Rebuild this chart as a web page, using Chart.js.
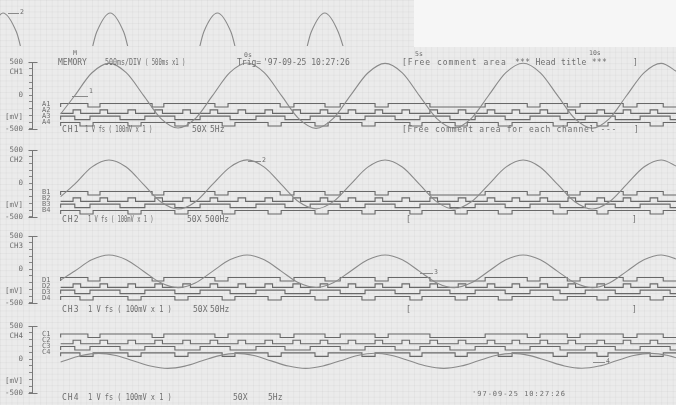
<!DOCTYPE html>
<html lang="en">
<head>
  <meta charset="UTF-8">
  <title>Memory recorder printout</title>
  <script src="https://cdn.jsdelivr.net/npm/chart.js"></script>
  <style>
    body { margin: 0; }
    #page {
      position: relative; width: 676px; height: 405px; overflow: hidden;
      background-color: #ebebeb;
      background-image:
        linear-gradient(to right, rgba(0,0,0,0.03) 1px, transparent 1px),
        linear-gradient(to bottom, rgba(0,0,0,0.03) 1px, transparent 1px);
      background-size: 5.75px 5.75px;
    }
    canvas { position: absolute; left: 0; }
    .t { position: absolute; font-family: 'DejaVu Sans Mono', monospace; font-size: 8px; line-height: 1;
         color: #6e6e6e; white-space: pre; z-index: 5; transform-origin: 0 50%; }
    .s { font-size: 6.5px; }
    .r { font-size: 7px; }
    .ld { position: absolute; height: 0; border-top: 1px solid #8a8a8a; z-index: 5; }
  </style>
</head>
<body>
<div id="page">
  <div style="position:absolute;left:414px;top:0;width:262px;height:47px;background:#f6f6f6"></div>

  <canvas id="prev" width="676" height="46" style="top:0"></canvas>
  <canvas id="ch1" width="676" height="88" style="top:50px"></canvas>
  <canvas id="ch2" width="676" height="88" style="top:138px"></canvas>
  <canvas id="ch3" width="676" height="88" style="top:224px"></canvas>
  <canvas id="ch4" width="676" height="88" style="top:314px"></canvas>

  <!-- header line -->
  <div class="t s" style="left:73px;top:50px">M</div>
  <div class="t" style="left:58px;top:59px">MEMORY</div>
  <div class="t" style="left:105px;top:59px;transform:scaleX(0.83)">500ms/DIV</div>
  <div class="t" style="left:145px;top:59px;transform:scaleX(0.7)">( 500ms x1 )</div>
  <div class="t" style="left:237px;top:59px">Trig=</div>
  <div class="t" style="left:263px;top:59px">'97-09-25 10:27:26</div>
  <div class="t" style="left:402px;top:59px;letter-spacing:1px">[Free comment area</div>
  <div class="t" style="left:515px;top:59px;letter-spacing:0.3px">*** Head title ***</div>
  <div class="t" style="left:633px;top:59px">]</div>
  <div class="t s" style="left:244px;top:52px">0s</div>
  <div class="t s" style="left:415px;top:51px">5s</div>
  <div class="t s" style="left:589px;top:50px">10s</div>

  <!-- trace labels -->
  <div class="ld" style="left:8px;top:13px;width:11px"></div><div class="t s" style="left:20px;top:9px">2</div>
  <div class="ld" style="left:72px;top:96px;width:16px"></div><div class="t s" style="left:89px;top:88px">1</div>
  <div class="ld" style="left:248px;top:161px;width:13px"></div><div class="t s" style="left:262px;top:157px">2</div>
  <div class="ld" style="left:420px;top:273px;width:13px"></div><div class="t s" style="left:434px;top:269px">3</div>
  <div class="ld" style="left:593px;top:362px;width:12px"></div><div class="t s" style="left:606px;top:358px">4</div>

  <!-- logic channel names -->
  <div class="t r" style="left:42px;top:101px">A1</div>
  <div class="t r" style="left:42px;top:107px">A2</div>
  <div class="t r" style="left:42px;top:113px">A3</div>
  <div class="t r" style="left:42px;top:119px">A4</div>
  <div class="t r" style="left:42px;top:189px">B1</div>
  <div class="t r" style="left:42px;top:195px">B2</div>
  <div class="t r" style="left:42px;top:201px">B3</div>
  <div class="t r" style="left:42px;top:207px">B4</div>
  <div class="t r" style="left:42px;top:277px">D1</div>
  <div class="t r" style="left:42px;top:283px">D2</div>
  <div class="t r" style="left:42px;top:289px">D3</div>
  <div class="t r" style="left:42px;top:295px">D4</div>
  <div class="t r" style="left:42px;top:331px">C1</div>
  <div class="t r" style="left:42px;top:337px">C2</div>
  <div class="t r" style="left:42px;top:343px">C3</div>
  <div class="t r" style="left:42px;top:349px">C4</div>

  <!-- channel footers -->
  <div class="t" style="left:62px;top:126px;letter-spacing:1px">CH1</div>
  <div class="t" style="left:85px;top:126px;transform:scaleX(0.7)">1 V fs ( 100mV x 1 )</div>
  <div class="t" style="left:192px;top:126px">50X</div>
  <div class="t" style="left:210px;top:126px">5Hz</div>
  <div class="t" style="left:402px;top:126px;letter-spacing:0.7px">[Free comment area for each channel ---</div>
  <div class="t" style="left:634px;top:126px">]</div>

  <div class="t" style="left:62px;top:216px;letter-spacing:1px">CH2</div>
  <div class="t" style="left:88px;top:216px;transform:scaleX(0.68)">1 V fs ( 100mV x 1 )</div>
  <div class="t" style="left:187px;top:216px">50X</div>
  <div class="t" style="left:205px;top:216px">500Hz</div>
  <div class="t" style="left:406px;top:216px">[</div>
  <div class="t" style="left:632px;top:216px">]</div>

  <div class="t" style="left:62px;top:306px;letter-spacing:1px">CH3</div>
  <div class="t" style="left:88px;top:306px;transform:scaleX(0.87)">1 V fs ( 100mV x 1 )</div>
  <div class="t" style="left:193px;top:306px">50X</div>
  <div class="t" style="left:210px;top:306px">50Hz</div>
  <div class="t" style="left:406px;top:306px">[</div>
  <div class="t" style="left:632px;top:306px">]</div>

  <div class="t" style="left:62px;top:394px;letter-spacing:1px">CH4</div>
  <div class="t" style="left:88px;top:394px;transform:scaleX(0.87)">1 V fs ( 100mV x 1 )</div>
  <div class="t" style="left:233px;top:394px">50X</div>
  <div class="t" style="left:268px;top:394px">5Hz</div>
  <div class="t" style="left:472px;top:391px;font-size:7px;letter-spacing:1px">'97-09-25 10:27:26</div>
</div>

<script>
  // time of each sine sample, seconds from trigger (500ms/DIV)
  const sampleTimes = [-5.4, -5, -4.5, -4, -3.5, -3, -2.5, -2, -1.5, -1, -0.5, 0, 0.5, 1, 1.5, 2, 2.5, 3, 3.5,
    4, 4.5, 5, 5.5, 6, 6.5, 7, 7.5, 8, 8.5, 9, 9.5, 10, 10.5, 11, 11.5, 12, 12.5];
  const ch4Times = [-5.4, -4.8, -4.3, -3.8, -3.3, -2.8, -2.3, -1.8, -1.3, -0.8, -0.3, 0.2, 0.7, 1.2, 1.7, 2.2, 2.7,
    3.2, 3.7, 4.2, 4.7, 5.2, 5.7, 6.2, 6.7, 7.2, 7.7, 8.2, 8.7, 9.2, 9.7, 10.2, 10.7, 11.2, 11.7, 12.2, 12.7];

  // analog channels, mV
  const ch1Values = [-280, -10, 335, 480, 340, 0, -345, -490, -350, -5, 340, 485, 340, -5, -350, -495, -345, 0, 335,
    480, 338, -8, -348, -490, -345, -2, 340, 482, 338, -5, -350, -492, -348, -3, 338, 480, 340];
  const ch2Values = [-200, -17, 243, 350, 245, -15, -277, -385, -280, -17, 240, 352, 243, -20, -277, -383, -275, -15, 243,
    350, 245, -17, -278, -385, -277, -18, 243, 350, 242, -17, -277, -386, -276, -16, 244, 350, 243];
  const ch3Values = [-160, -30, 143, 215, 145, -28, -203, -275, -205, -30, 142, 216, 143, -30, -203, -273, -202, -28, 143,
    215, 144, -30, -204, -275, -203, -29, 143, 214, 143, -30, -203, -276, -204, -30, 143, 215, 143];
  const ch4Values = [-40, 57, 90, 58, -22, -100, -135, -102, -22, 56, 90, 57, -23, -101, -136, -100, -22, 57, 92,
    57, -21, -101, -135, -101, -22, 57, 90, 56, -22, -100, -134, -101, -22, 57, 90, 57, -22];

  // tail of the previous page (trace 2), relative level
  const prevTimes = [-0.5, 0, 0.5, 1, 3, 3.5, 4, 4.5, 5, 7, 7.5, 8, 8.5, 9, 11, 11.5, 12, 12.5, 13];
  const prevValues = [0.7, 1, 0.7, 0, 0, 0.7, 1, 0.7, 0, 0, 0.71, 1, 0.7, 0, 0, 0.7, 1, 0.7, 0];

  // logic inputs: [start, end] of each high period, seconds
  const logic1 = [[-5.4, -4.61], [-4.26, -2.75], [-2.41, -0.93], [-0.55, 0.96], [1.36, 2.26], [2.70, 3.71],
    [4.09, 5.30], [6.90, 8.12], [8.49, 9.28], [9.65, 10.90], [11.30, 12.06]];
  const logic2 = [[-5.04, -4.82], [-4.26, -4.04], [-3.45, -3.23], [-2.67, -2.45], [-1.86, -1.64], [-1.07, -0.85],
    [-0.26, -0.04], [0.52, 0.74], [1.33, 1.55], [2.12, 2.34], [2.93, 3.15], [3.71, 3.93], [4.49, 4.71], [5.30, 5.52],
    [6.12, 6.34], [6.96, 7.18], [7.68, 7.90], [8.49, 8.71], [9.30, 9.52], [10.14, 10.36], [10.90, 11.12], [11.68, 11.90]];
  const logic3 = [[-5.4, -4.99], [-4.55, -3.68], [-2.96, -2.09], [-1.36, -0.49], [0.26, 1.10], [1.83, 2.70],
    [3.42, 4.29], [5.01, 5.88], [6.61, 7.48], [8.20, 9.07], [9.80, 10.67], [11.39, 12.26]];
  const logic4 = [[-5.4, -4.84], [-4.46, -3.45], [-3.07, -2.09], [-1.71, -0.72], [-0.35, 0.61], [0.99, 1.97],
    [2.35, 3.33], [3.71, 4.72], [5.07, 6.03], [6.38, 7.28], [7.68, 8.87], [9.28, 10.14], [10.46, 11.68], [12.06, 12.45]];

  const yTickValues = [500, 400, 350, 300, 200, 100, 0, -100, -200, -300, -320, -400, -500];

  const traceStart = -5.4, traceEnd = 12.45;
  const ink = '#6e6e6e';
  const font = { family: 'DejaVu Sans Mono', size: 7.5 };

  const panels = [
    { id: 'ch1', name: 'CH1', times: sampleTimes, values: ch1Values, logicMax: 16.3 },
    { id: 'ch2', name: 'CH2', times: sampleTimes, values: ch2Values, logicMax: 16.3 },
    { id: 'ch3', name: 'CH3', times: sampleTimes, values: ch3Values, logicMax: 16.3 },
    { id: 'ch4', name: 'CH4', times: ch4Times, values: ch4Values, logicMax: 6.7 }
  ];

  // vertical axis line with end caps, only between +500 and -500
  const axisLine = {
    id: 'axisLine',
    afterDraw(chart) {
      const s = chart.scales.y;
      const ctx = chart.ctx;
      const x = Math.round(s.right) + 0.5;
      const y1 = Math.round(s.getPixelForValue(500)) + 0.5;
      const y2 = Math.round(s.getPixelForValue(-500)) + 0.5;
      ctx.save();
      ctx.strokeStyle = '#777';
      ctx.lineWidth = 1;
      ctx.beginPath();
      ctx.moveTo(x, y1); ctx.lineTo(x, y2);
      ctx.moveTo(x - 4, y1); ctx.lineTo(x + 5, y1);
      ctx.moveTo(x - 4, y2); ctx.lineTo(x + 5, y2);
      ctx.stroke();
      ctx.restore();
    }
  };

  function stepPoints(intervals, base) {
    const pts = [{ x: traceStart, y: base }];
    intervals.forEach(([a, b]) => {
      pts.push({ x: a, y: base + 1 }, { x: b, y: base });
    });
    pts.push({ x: traceEnd, y: pts[pts.length - 1].y });
    return pts;
  }

  function createPanel(p) {
    const labels = { 500: '500', 350: p.name, 0: '0', '-320': '[mV]', '-500': '-500' };
    const logicSets = [logic1, logic2, logic3, logic4].map((iv, r) => ({
      data: stepPoints(iv, -1.8 * r),
      yAxisID: 'yl',
      stepped: true,
      borderColor: '#686868',
      borderWidth: 1.1,
      pointRadius: 0
    }));
    new Chart(document.getElementById(p.id), {
      type: 'line',
      data: {
        datasets: [{
          data: p.times.map((t, i) => ({ x: t, y: p.values[i] })),
          yAxisID: 'y',
          borderColor: '#8a8a8a',
          borderWidth: 1.1,
          pointRadius: 0,
          cubicInterpolationMode: 'monotone'
        }, ...logicSets]
      },
      options: {
        responsive: false,
        animation: false,
        events: [],
        layout: { padding: 0 },
        plugins: { legend: { display: false }, tooltip: { enabled: false } },
        scales: {
          x: { type: 'linear', display: false, min: -6.23, max: 12.43 },
          y: {
            position: 'left',
            min: -640, max: 680,
            // fixed axis width, and no extra room above/below for the end labels
            afterFit: s => { s.width = 32; s.paddingTop = 0; s.paddingBottom = 0; },
            afterBuildTicks: s => { s.ticks = yTickValues.map(v => ({ value: v })); },
            border: { display: false },
            grid: {
              drawOnChartArea: false, tickLength: 3,
              tickColor: c => (c.tick && (c.tick.value === 350 || c.tick.value === -320)) ? 'rgba(0,0,0,0)' : '#888'
            },
            ticks: { autoSkip: false, padding: 6, color: ink, font: font, callback: v => labels[v] || '' }
          },
          yl: { display: false, min: p.logicMax - 25.14, max: p.logicMax }
        }
      },
      plugins: [axisLine]
    });
  }

  function createPrev() {
    new Chart(document.getElementById('prev'), {
      type: 'line',
      data: {
        datasets: [{
          data: prevTimes.map((t, i) => ({ x: t, y: prevValues[i] })),
          borderColor: '#8a8a8a',
          borderWidth: 1.1,
          pointRadius: 0,
          cubicInterpolationMode: 'monotone'
        }]
      },
      options: {
        responsive: false,
        animation: false,
        events: [],
        layout: { padding: 0 },
        plugins: { legend: { display: false }, tooltip: { enabled: false } },
        scales: {
          x: { type: 'linear', display: false, min: -0.11, max: 25.1 },
          y: { display: false, min: 0.474, max: 1.207 }
        }
      }
    });
  }

  createPrev();
  panels.forEach(createPanel);
</script>
</body>
</html>
